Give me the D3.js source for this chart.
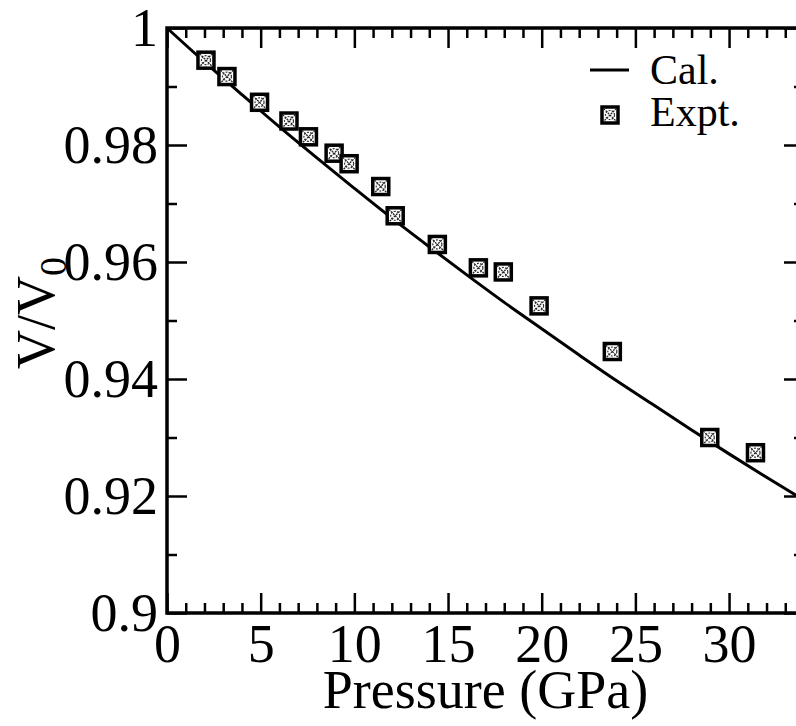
<!DOCTYPE html>
<html>
<head>
<meta charset="utf-8">
<title>V/V0 vs pressure</title>
<script src="https://d3js.org/d3.v7.min.js"></script>
<style>
  body { margin: 0; background: #fff; }
  svg { display: block; }
  text { font-family: "Liberation Serif", "Times New Roman", serif; fill: #000; }
  .tick line { stroke: #000; stroke-width: 2.5; }
</style>
</head>
<body>
<svg width="796" height="726"></svg>
<script>
// calculated curve (Cal.)
var calP = [0, 2, 4, 6, 8, 10, 12, 14, 16, 18, 20, 22, 24, 26, 28, 30, 32, 34];
var calV = [1.0, 0.9942, 0.9886, 0.9831, 0.9778, 0.9726, 0.9675, 0.9626, 0.9578, 0.9531,
            0.9486, 0.9441, 0.9397, 0.9355, 0.9313, 0.9272, 0.9232, 0.9193];

// experimental points (Expt.)
var expP = [2.08, 3.2, 4.94, 6.51, 7.55, 8.92, 9.72, 11.41, 12.18, 14.43, 16.62, 17.95, 19.86, 23.77, 28.97, 31.41];
var expV = [0.9945, 0.9917, 0.9873, 0.9841, 0.9814, 0.9786, 0.9768, 0.9729, 0.9679, 0.9630,
            0.9590, 0.9583, 0.9525, 0.9447, 0.9300, 0.9274];

var xMajor = [0, 5, 10, 15, 20, 25, 30];
var yMajor = [0.9, 0.92, 0.94, 0.96, 0.98, 1];
var yLabels = ["0.9", "0.92", "0.94", "0.96", "0.98", "1"];

var svg = d3.select("svg"),
    mLeft = 167, mTop = 28,
    width = 804 - mLeft, height = 613 - mTop;

var x = d3.scaleLinear().domain([0, 34]).range([0, width]);
var y = d3.scaleLinear().domain([0.9, 1]).range([height, 0]);

var g = svg.append("g").attr("transform", "translate(" + mLeft + "," + mTop + ")");

var xMinor = d3.range(0, 35, 1).filter(function(d) { return d % 5 != 0; });
var yMinor = [0.91, 0.93, 0.95, 0.97, 0.99];

function addAxis(axis, tr) {
  var a = g.append("g").attr("transform", tr || null).call(axis);
  a.select(".domain").remove();
  a.attr("font-family", null);
  return a;
}

// bottom
addAxis(d3.axisBottom(x).tickValues(xMajor).tickSize(-20).tickPadding(11), "translate(0," + height + ")")
  .selectAll("text").attr("font-size", 54);
addAxis(d3.axisBottom(x).tickValues(xMinor).tickSize(-10).tickFormat(""), "translate(0," + height + ")");
// top
addAxis(d3.axisTop(x).tickValues(xMajor).tickSize(-20).tickFormat(""));
addAxis(d3.axisTop(x).tickValues(xMinor).tickSize(-10).tickFormat(""));
// left
addAxis(d3.axisLeft(y).tickValues(yMajor).tickSize(-20).tickPadding(9)
    .tickFormat(function(d, i) { return yLabels[i]; }))
  .selectAll("text").attr("font-size", 54);
addAxis(d3.axisLeft(y).tickValues(yMinor).tickSize(-10).tickFormat(""));
// right
addAxis(d3.axisRight(y).tickValues(yMajor).tickSize(-20).tickFormat(""), "translate(" + width + ",0)");
addAxis(d3.axisRight(y).tickValues(yMinor).tickSize(-10).tickFormat(""), "translate(" + width + ",0)");

// frame
g.append("rect")
  .attr("width", width).attr("height", height)
  .attr("fill", "none").attr("stroke", "#000").attr("stroke-width", 3.5);

// calculated line
var calData = calP.map(function(p, i) { return [p, calV[i]]; });
g.append("path")
  .datum(calData)
  .attr("fill", "none").attr("stroke", "#000").attr("stroke-width", 3)
  .attr("d", d3.line()
    .x(function(d) { return x(d[0]); })
    .y(function(d) { return y(d[1]); })
    .curve(d3.curveMonotoneX));

function marker(sel) {
  sel.append("rect").attr("x", -8).attr("y", -8).attr("width", 16).attr("height", 16)
    .attr("fill", "#fff").attr("stroke", "#000").attr("stroke-width", 3.5);
  sel.append("path").attr("d", "M-6.5,-6.5L6.5,6.5M6.5,-6.5L-6.5,6.5")
    .attr("stroke", "#222").attr("stroke-width", 1.3).attr("stroke-dasharray", "2,1");
  sel.append("circle").attr("r", 4.5).attr("fill", "none")
    .attr("stroke", "#333").attr("stroke-width", 1.2).attr("stroke-dasharray", "2,1.2");
}

var expData = expP.map(function(p, i) { return [p, expV[i]]; });
g.selectAll(".pt")
  .data(expData)
  .enter().append("g")
  .attr("class", "pt")
  .attr("transform", function(d) { return "translate(" + x(d[0]) + "," + y(d[1]) + ")"; })
  .call(marker);

// legend
var lg = svg.append("g");
lg.append("line").attr("x1", 590).attr("x2", 629).attr("y1", 70).attr("y2", 70)
  .attr("stroke", "#000").attr("stroke-width", 3);
lg.append("text").attr("x", 650).attr("y", 84).attr("font-size", 42).text("Cal.");
lg.append("g").attr("transform", "translate(610,115)").call(marker);
lg.append("text").attr("x", 650).attr("y", 126).attr("font-size", 42).text("Expt.");

// axis titles
svg.append("text")
  .attr("x", mLeft + width / 2).attr("y", 708)
  .attr("text-anchor", "middle").attr("font-size", 54)
  .text("Pressure (GPa)");

var yt = svg.append("text")
  .attr("transform", "translate(54,313) rotate(-90)")
  .attr("text-anchor", "middle").attr("font-size", 54);
yt.append("tspan").text("V/V");
yt.append("tspan").attr("font-size", 38).attr("dy", 12).text("0");
</script>
</body>
</html>
